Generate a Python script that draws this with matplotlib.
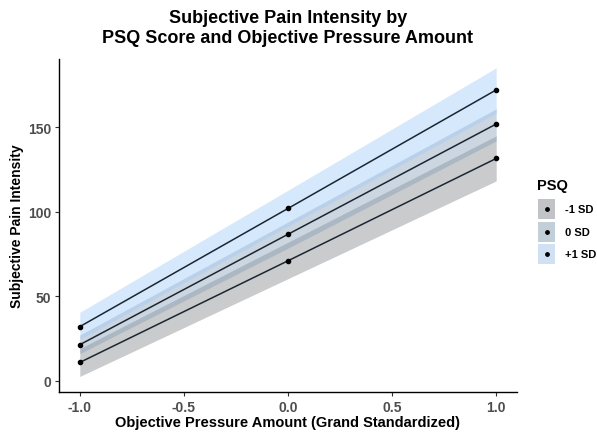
import matplotlib.pyplot as plt
import numpy as np

# predicted values at -1, 0, +1 (grand standardized pressure)
x = [-1.0, 0.0, 1.0]
groups = ["-1 SD", "0 SD", "+1 SD"]
fit = {
    "-1 SD": [10.8, 71.0, 131.6],
    "0 SD": [21.3, 86.7, 152.0],
    "+1 SD": [32.0, 102.0, 172.2],
}
lower = {
    "-1 SD": [2.5, 60.4, 118.3],
    "0 SD": [16.0, 78.5, 142.0],
    "+1 SD": [24.5, 91.5, 158.5],
}
upper = {
    "-1 SD": [19.0, 82.0, 145.0],
    "0 SD": [27.0, 94.0, 161.0],
    "+1 SD": [40.5, 112.8, 185.3],
}
fills = {"-1 SD": "#80838a", "0 SD": "#839fb6", "+1 SD": "#9fcaf6"}

plt.rcParams['font.family'] = ['Liberation Sans', 'DejaVu Sans']

fig = plt.figure(figsize=(5.97, 4.35), dpi=100)
ax = fig.add_axes([0.0988, 0.0966, 0.7672, 0.7654])

for g in groups:
    ax.fill_between(x, lower[g], upper[g], color=fills[g], alpha=0.42, lw=0)
for g in groups:
    ax.plot(x, fit[g], color="#1b2633", lw=1.1)
    ax.scatter(x, fit[g], color="black", s=9, zorder=3)

ax.set_xlim(-1.1, 1.1)
ax.set_ylim(-6.7, 190.5)
ax.set_xticks([-1.0, -0.5, 0.0, 0.5, 1.0])
ax.set_xticklabels(["-1.0", "-0.5", "0.0", "0.5", "1.0"])
ax.set_yticks([0, 50, 100, 150])
for s in ["top", "right"]:
    ax.spines[s].set_visible(False)
for s in ["left", "bottom"]:
    ax.spines[s].set_color("black")
    ax.spines[s].set_linewidth(1.0)
ax.tick_params(length=3, width=0.8, color="#333333", labelcolor="#4d4d4d",
               labelsize=10, pad=2.5)
for lab in ax.get_xticklabels() + ax.get_yticklabels():
    lab.set_fontweight("bold")

ax.set_xlabel("Objective Pressure Amount (Grand Standardized)", fontsize=10.5,
              fontweight="bold", labelpad=1)
ax.set_ylabel("Subjective Pain Intensity", fontsize=10, fontweight="bold",
              labelpad=3)

fig.text(0.482, 0.978, "Subjective Pain Intensity by\nPSQ Score and Objective Pressure Amount",
         ha="center", va="top", fontsize=13, fontweight="bold", linespacing=1.3)

# legend
fig.text(0.9, 0.572, "PSQ", fontsize=10.5, fontweight="bold", ha="left", va="center")
key_y = [0.517, 0.465, 0.414]
for g, ky in zip(groups, key_y):
    kax = fig.add_axes([0.901, ky - 0.023, 0.029, 0.046])
    kax.set_xlim(0, 1)
    kax.set_ylim(0, 1)
    kax.axis("off")
    kax.add_patch(plt.Rectangle((0, 0), 1, 1, color="#f2f2f2", lw=0))
    kax.add_patch(plt.Rectangle((0, 0), 1, 1, color=fills[g], alpha=0.42, lw=0))
    kax.scatter([0.5], [0.5], color="black", s=6)
    fig.text(0.946, ky, g, fontsize=8, fontweight="bold", ha="left", va="center")

fig.savefig("out.png", dpi=100)
